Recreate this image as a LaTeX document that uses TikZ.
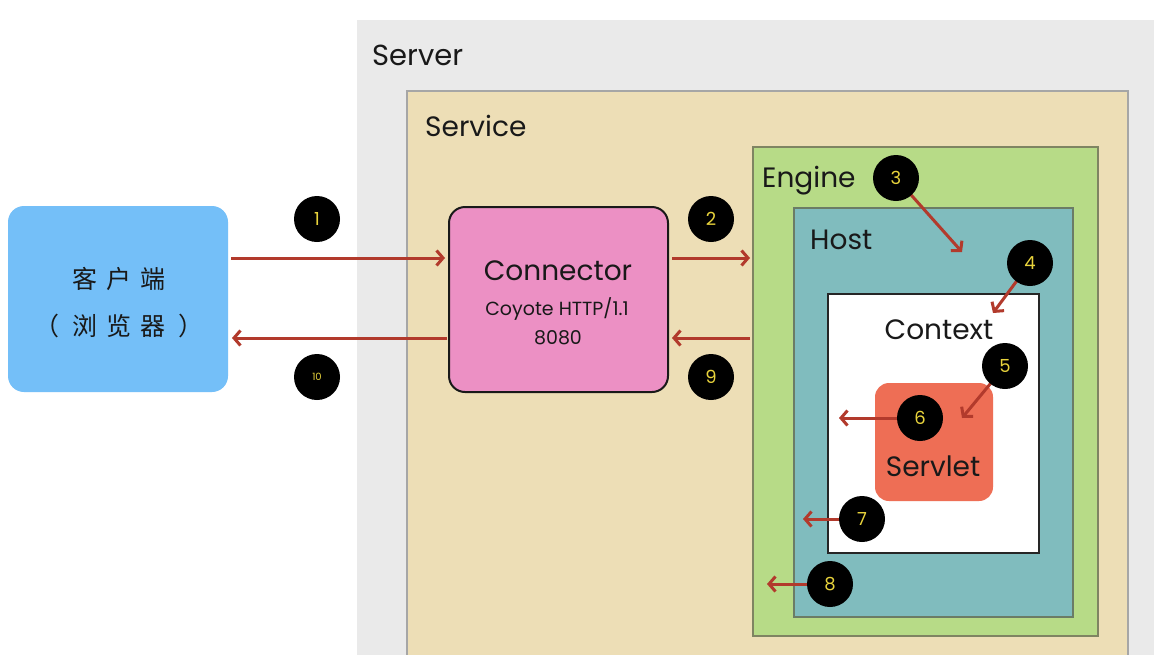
\documentclass[tikz,border=0pt]{standalone}
\usepackage{fontspec}
\setmainfont{Poppins}
\newfontfamily\cjk{Noto Sans CJK SC}
\usetikzlibrary{arrows.meta}
\definecolor{servergray}{HTML}{EAEAEA}
\definecolor{servicetan}{HTML}{EDDEB6}
\definecolor{serviceline}{HTML}{A6A6A6}
\definecolor{enginegreen}{HTML}{B7DB87}
\definecolor{engineline}{HTML}{7F8462}
\definecolor{hostteal}{HTML}{80BCBE}
\definecolor{hostline}{HTML}{6B7C66}
\definecolor{servletred}{HTML}{EE6E55}
\definecolor{connpink}{HTML}{EC90C4}
\definecolor{clientblue}{HTML}{74BFF8}
\definecolor{arrowred}{HTML}{B23A2C}
\definecolor{numyellow}{HTML}{E8D33C}
\newcommand{\cs}{\hspace{9pt}}
\tikzset{
  box/.style={anchor=north west, inner sep=0pt, outer sep=0pt},
  lbl/.style={inner sep=0pt, text=black!90},
  head/.style={lbl, font=\fontsize{28}{28}\selectfont},
  small/.style={lbl, font=\fontsize{19}{19}\selectfont},
  num/.style={circle, fill=black, minimum size=46pt, inner sep=0pt, text=numyellow, font=\fontsize{18}{18}\selectfont},
  arr/.style={draw=arrowred, line width=3pt, -{Straight Barb[length=6.5pt, width=15pt, line width=3pt]}},
}
\begin{document}
\begin{tikzpicture}[x=1pt,y=-1pt]
\useasboundingbox (0,0) rectangle (1162,654);
\clip (0,0) rectangle (1162,654);
\fill[white] (0,0) rectangle (1162,654);
% containers
\node[box, fill=servergray, minimum width=797pt, minimum height=700pt] (server) at (357,20) {};
\node[box, fill=servicetan, draw=serviceline, line width=2pt, minimum width=721pt, minimum height=700pt] (service) at (407,91) {};
\node[box, fill=enginegreen, draw=engineline, line width=2pt, minimum width=345pt, minimum height=489pt] (engine) at (753,147) {};
\node[box, fill=hostteal, draw=hostline, line width=2pt, minimum width=279pt, minimum height=409pt] (host) at (794,208) {};
\node[box, fill=white, draw=black!85, line width=2pt, minimum width=211pt, minimum height=259pt] (context) at (828,294) {};
\node[box, fill=servletred, rounded corners=14pt, minimum width=118pt, minimum height=118pt] (servlet) at (875,383) {};
\node[box, fill=connpink, draw=black!90, line width=2pt, rounded corners=16pt, minimum width=219pt, minimum height=185pt] (conn) at (449,207) {};
\node[box, fill=clientblue, rounded corners=16pt, minimum width=220pt, minimum height=186pt] (client) at (8,206) {};
% labels
\node[head, anchor=west, font=\fontsize{29}{29}\selectfont] (tserver) at (372,55) {Server};
\node[head, anchor=west] (tservice) at (425,126) {Service};
\node[head, anchor=west] (tengine) at (762,181) {Engine};
\node[head, anchor=west] (thost) at (810,240) {Host};
\node[head] (tcontext) at (939,330) {Context};
\node[head] (tservlet) at (933,466) {Servlet};
\node[head] (tconn) at (558,271) {Connector};
\node[small] (tcoyote) at (557,309) {Coyote HTTP/1.1};
\node[small] (tport) at (558,338) {8080};
\node[lbl, font=\cjk\fontsize{25}{25}\selectfont] (tclient1) at (119,279) {客\cs 户\cs 端};
\node[lbl, font=\cjk\fontsize{25}{25}\selectfont] (tclient2) at (119,326) {（\hspace{4pt}\cs 浏\cs 览\cs 器\cs\hspace{4pt}）};
% arrow levels and free ends
\coordinate (yA) at (0,258);
\coordinate (yB) at (0,338);
\coordinate (a3) at (962,252);
\coordinate (a4) at (993,313);
\coordinate (a5) at (962,418);
\coordinate (a6) at (839,418);
\coordinate (a7) at (803,519);
\coordinate (a8) at (767,584);
% number markers positions
\coordinate (p3) at (896,178);
\coordinate (p4) at (1030,263);
\coordinate (p5) at (1005,366);
\coordinate (p6) at (920,418);
\coordinate (p7) at (862,519);
\coordinate (p8) at (830,584);
% arrows
\draw[arr, shorten <=3pt, shorten >=4pt] (client.east |- yA) -- (conn.west |- yA);
\draw[arr, shorten <=4pt, shorten >=3pt] (conn.east |- yA) -- (engine.west |- yA);
\draw[arr, shorten <=3pt, shorten >=4pt] (engine.west |- yB) -- (conn.east |- yB);
\draw[arr, shorten <=2pt, shorten >=4pt] (conn.west |- yB) -- (client.east |- yB);
\draw[arr] (p3) -- (a3);
\draw[arr] (p4) -- (a4);
\draw[arr] (p5) -- (a5);
\draw[arr] (p6) -- (a6);
\draw[arr] (p7) -- (a7);
\draw[arr] (p8) -- (a8);
% numbers
\node[num] (n1) at (317,219) {1};
\node[num] (n2) at (711,219) {2};
\node[num] (n3) at (p3) {3};
\node[num] (n4) at (p4) {4};
\node[num] (n5) at (p5) {5};
\node[num] (n6) at (p6) {6};
\node[num] (n7) at (p7) {7};
\node[num] (n8) at (p8) {8};
\node[num] (n9) at (711,377) {9};
\node[num, font=\fontsize{10}{10}\selectfont] (n10) at (317,377) {10};
\end{tikzpicture}
\end{document}
